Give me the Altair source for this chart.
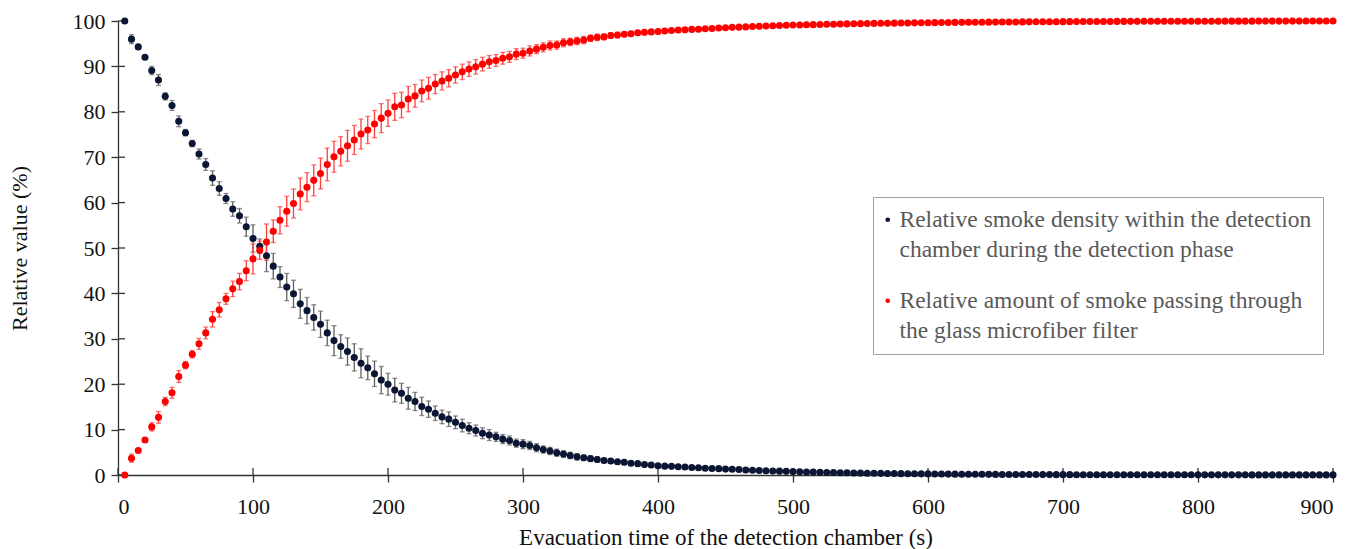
import altair as alt
import pandas as pd

# Evacuation time (s)
t = list(range(5, 905, 5))

# Relative smoke density within the detection chamber (%)
density = [
    100.0, 96.0, 94.3, 92.0, 89.1, 87.0, 83.4, 81.4, 77.9, 75.4,
    73.0, 70.7, 68.4, 65.4, 63.1, 60.9, 58.6, 57.1, 54.7, 52.1,
    50.4, 48.3, 46.0, 43.6, 41.4, 39.9, 37.7, 36.2, 34.7, 33.2,
    31.3, 29.6, 28.3, 27.2, 25.9, 24.6, 23.6, 22.3, 20.9, 20.0,
    18.7, 18.0, 16.9, 16.2, 15.1, 14.5, 13.6, 12.8, 12.3, 11.6,
    10.9, 10.3, 9.8, 9.2, 8.8, 8.4, 7.9, 7.6, 7.0, 6.8,
    6.5, 6.0, 5.6, 5.3, 4.9, 4.6, 4.3, 4.0, 3.8, 3.6,
    3.4, 3.2, 3.1, 2.9, 2.8, 2.6, 2.5, 2.3, 2.2, 2.05,
    1.95, 1.9, 1.8, 1.75, 1.65, 1.6, 1.5, 1.45, 1.4, 1.3,
    1.25, 1.2, 1.1, 1.05, 1.0, 0.95, 0.9, 0.85, 0.8, 0.75,
    0.72, 0.68, 0.65, 0.6, 0.57, 0.54, 0.5, 0.48, 0.45, 0.42,
    0.4, 0.38, 0.36, 0.34, 0.32, 0.3, 0.28, 0.27, 0.25, 0.24,
    0.22, 0.21, 0.2, 0.19, 0.18, 0.17, 0.16, 0.15, 0.14, 0.13,
    0.12, 0.12, 0.11, 0.11, 0.1, 0.1, 0.09, 0.09, 0.08, 0.08,
    0.08, 0.07, 0.07, 0.07, 0.06, 0.06, 0.06, 0.06, 0.05, 0.05,
    0.05, 0.05, 0.05, 0.04, 0.04, 0.04, 0.04, 0.04, 0.04, 0.03,
    0.03, 0.03, 0.03, 0.03, 0.03, 0.03, 0.03, 0.02, 0.02, 0.02,
    0.02, 0.02, 0.02, 0.02, 0.02, 0.02, 0.02, 0.02, 0.02, 0.02,
]
density_err = [
    0.0, 1.0, 0.3, 0.4, 0.9, 1.2, 0.8, 1.1, 1.2, 0.7,
    0.7, 1.1, 1.3, 1.6, 1.5, 1.1, 1.6, 1.6, 2.1, 3.0,
    1.6, 3.5, 2.8, 2.3, 3.0, 3.0, 3.2, 2.9, 2.8, 2.9,
    2.8, 3.3, 2.6, 3.0, 3.0, 3.2, 2.6, 2.8, 3.0, 2.4,
    2.6, 2.2, 2.4, 2.0, 2.0, 1.8, 1.6, 1.5, 1.6, 1.4,
    1.4, 1.2, 1.2, 1.2, 1.2, 1.0, 1.0, 1.0, 0.9, 1.0,
    0.9, 0.9, 0.8, 0.8, 0.8, 0.7, 0.7, 0.7, 0.6, 0.6,
    0.6, 0.5, 0.5, 0.5, 0.5, 0.4, 0.4, 0.4, 0.4, 0.4,
    0.3, 0.3, 0.3, 0.3, 0.3, 0.3, 0.2, 0.2, 0.2, 0.2,
    0.2, 0.2, 0.2, 0.2, 0.1, 0.1, 0.1, 0.1, 0.1, 0.1,
    0.1, 0.1, 0.1, 0.1, 0.1, 0.1, 0.1, 0.1, 0.1, 0.1,
    0.0, 0.0, 0.0, 0.0, 0.0, 0.0, 0.0, 0.0, 0.0, 0.0,
    0.0, 0.0, 0.0, 0.0, 0.0, 0.0, 0.0, 0.0, 0.0, 0.0,
    0.0, 0.0, 0.0, 0.0, 0.0, 0.0, 0.0, 0.0, 0.0, 0.0,
    0.0, 0.0, 0.0, 0.0, 0.0, 0.0, 0.0, 0.0, 0.0, 0.0,
    0.0, 0.0, 0.0, 0.0, 0.0, 0.0, 0.0, 0.0, 0.0, 0.0,
    0.0, 0.0, 0.0, 0.0, 0.0, 0.0, 0.0, 0.0, 0.0, 0.0,
    0.0, 0.0, 0.0, 0.0, 0.0, 0.0, 0.0, 0.0, 0.0, 0.0,
]

# Relative amount of smoke passing through the filter (%)
passing = [
    0.0, 3.7, 5.4, 7.7, 10.6, 12.7, 16.2, 18.1, 21.7, 24.2,
    26.6, 28.9, 31.3, 34.3, 36.4, 38.8, 41.0, 42.6, 45.0, 47.6,
    49.5, 51.3, 53.7, 56.1, 58.1, 59.8, 61.9, 63.4, 64.9, 66.4,
    68.4, 70.1, 71.3, 72.5, 73.8, 75.1, 76.0, 77.3, 78.6, 79.7,
    81.1, 81.5, 82.8, 83.5, 84.6, 85.2, 86.1, 86.8, 87.4, 88.1,
    88.8, 89.4, 89.9, 90.5, 91.0, 91.3, 91.8, 92.1, 92.7, 92.9,
    93.4, 93.8, 94.2, 94.6, 94.7, 95.2, 95.4, 95.6, 95.8, 96.2,
    96.4, 96.5, 96.8, 96.9, 97.1, 97.2, 97.4, 97.5, 97.6, 97.7,
    97.8, 97.9, 98.0, 98.05, 98.15, 98.2, 98.3, 98.35, 98.45, 98.5,
    98.6, 98.65, 98.7, 98.8, 98.85, 98.9, 98.95, 99.0, 99.05, 99.1,
    99.13, 99.17, 99.2, 99.24, 99.27, 99.3, 99.33, 99.36, 99.39, 99.42,
    99.44, 99.47, 99.49, 99.51, 99.53, 99.55, 99.57, 99.59, 99.61, 99.63,
    99.64, 99.66, 99.67, 99.69, 99.7, 99.72, 99.73, 99.74, 99.75, 99.76,
    99.77, 99.78, 99.79, 99.8, 99.81, 99.82, 99.83, 99.84, 99.85, 99.86,
    99.86, 99.87, 99.88, 99.88, 99.89, 99.9, 99.9, 99.91, 99.91, 99.92,
    99.92, 99.93, 99.93, 99.94, 99.94, 99.94, 99.95, 99.95, 99.95, 99.96,
    99.96, 99.96, 99.96, 99.97, 99.97, 99.97, 99.97, 99.97, 99.98, 99.98,
    99.98, 99.98, 99.98, 99.98, 99.98, 99.99, 99.99, 99.99, 99.99, 99.99,
]
passing_err = [
    0.0, 0.9, 0.3, 0.5, 0.9, 1.3, 0.9, 1.2, 1.3, 0.8,
    0.8, 1.2, 1.3, 1.7, 1.6, 1.2, 1.7, 1.8, 2.2, 3.3,
    2.0, 4.0, 2.5, 3.0, 3.3, 3.2, 3.5, 3.2, 3.4, 3.4,
    3.6, 3.4, 3.2, 3.4, 3.2, 3.3, 3.0, 3.0, 3.2, 2.9,
    3.0, 2.8, 2.8, 2.5, 2.4, 2.4, 2.1, 2.0, 1.9, 1.8,
    1.7, 1.6, 1.6, 1.5, 1.4, 1.3, 1.3, 1.2, 1.2, 1.1,
    1.1, 1.0, 1.0, 1.0, 0.9, 0.9, 0.8, 0.8, 0.8, 0.7,
    0.7, 0.6, 0.6, 0.6, 0.5, 0.5, 0.5, 0.5, 0.4, 0.4,
    0.4, 0.4, 0.3, 0.3, 0.3, 0.3, 0.3, 0.2, 0.2, 0.2,
    0.2, 0.2, 0.1, 0.1, 0.1, 0.1, 0.1, 0.1, 0.1, 0.1,
    0.1, 0.1, 0.1, 0.1, 0.1, 0.1, 0.1, 0.1, 0.1, 0.1,
    0.0, 0.0, 0.0, 0.0, 0.0, 0.0, 0.0, 0.0, 0.0, 0.0,
    0.0, 0.0, 0.0, 0.0, 0.0, 0.0, 0.0, 0.0, 0.0, 0.0,
    0.0, 0.0, 0.0, 0.0, 0.0, 0.0, 0.0, 0.0, 0.0, 0.0,
    0.0, 0.0, 0.0, 0.0, 0.0, 0.0, 0.0, 0.0, 0.0, 0.0,
    0.0, 0.0, 0.0, 0.0, 0.0, 0.0, 0.0, 0.0, 0.0, 0.0,
    0.0, 0.0, 0.0, 0.0, 0.0, 0.0, 0.0, 0.0, 0.0, 0.0,
    0.0, 0.0, 0.0, 0.0, 0.0, 0.0, 0.0, 0.0, 0.0, 0.0,
]

series_names = [
    "Relative smoke density within the detection|chamber during the detection phase",
    "Relative amount of smoke passing through|the glass microfiber filter",
]
series_colors = ["#0a1633", "#ff0000"]
errbar_colors = ["#5f5f5f", "#ff3b3b"]
x_ticks = [0, 100, 200, 300, 400, 500, 600, 700, 800, 900]
y_ticks = [0, 10, 20, 30, 40, 50, 60, 70, 80, 90, 100]

FONT = "Liberation Serif"
W, H = 1215, 454

rows = []
for name, vals, errs in [(series_names[0], density, density_err),
                         (series_names[1], passing, passing_err)]:
    for ti, v, e in zip(t, vals, errs):
        rows.append({"t": ti, "value": v, "lo": v - e, "hi": v + e, "series": name})
df = pd.DataFrame(rows)

xscale = alt.Scale(domain=[0, 900], nice=False, zero=False)
yscale = alt.Scale(domain=[0, 100], nice=False)
xaxis = alt.Axis(values=x_ticks, title="Evacuation time of the detection chamber (s)",
                 labelPadding=14, titlePadding=9, titleFontSize=23)
yaxis = alt.Axis(values=y_ticks, title="Relative value (%)", labelPadding=6,
                 titlePadding=41, titleFontSize=22)

X = alt.X("t:Q", scale=xscale, axis=xaxis)
ytitle = "Relative value (%)"

base = alt.Chart(df)

err_layers = []
for name, col in zip(series_names, errbar_colors):
    err_layers.append(
        base.transform_filter(alt.datum.series == name)
        .mark_errorbar(ticks=True, size=5, thickness=1.3, color=col)
        .encode(x=X, y=alt.Y("lo:Q", scale=yscale, axis=yaxis, title=ytitle), y2="hi:Q")
    )

points = base.mark_point(filled=True, size=50, opacity=1, strokeWidth=0).encode(
    x=X,
    y=alt.Y("value:Q", scale=yscale, axis=yaxis, title=ytitle),
    color=alt.Color(
        "series:N",
        scale=alt.Scale(domain=series_names, range=series_colors),
        legend=alt.Legend(
            title=None, orient="none", legendX=755, legendY=176,
            direction="vertical", labelExpr="split(datum.label, '|')",
            labelFont=FONT, labelFontSize=23.5, labelColor="#595959",
            labelLimit=1000, labelOffset=0, symbolOffset=-8, symbolType="circle",
            symbolSize=22, symbolStrokeWidth=0, rowPadding=26,
            padding=11, strokeColor="#a0a0a0", fillColor="white",
        ),
    ),
)

# inner halves of the cross-shaped axis ticks
tick_x = alt.Chart(pd.DataFrame({"tx": x_ticks})).mark_rule(color="#333333", strokeWidth=1.3).encode(
    x=alt.X("tx:Q", scale=xscale, axis=xaxis), y=alt.value(H - 7), y2=alt.value(H)
)
tick_y = alt.Chart(pd.DataFrame({"ty": y_ticks})).mark_rule(color="#333333", strokeWidth=1.3).encode(
    y=alt.Y("ty:Q", scale=yscale, axis=yaxis, title=ytitle), x=alt.value(0), x2=alt.value(7)
)

chart = (
    alt.layer(tick_x, tick_y, *err_layers, points)
    .properties(width=W, height=H, padding={"top": 2, "left": 0, "right": 5, "bottom": 5})
    .configure(style={"guide-label": {"lineHeight": 30}})
    .configure_view(stroke=None)
    .configure_axis(
        grid=False, domainColor="#333333", domainWidth=1.3, tickColor="#333333",
        tickWidth=1.3, tickSize=7, labelFont=FONT, labelFontSize=22, labelColor="#111111",
        titleFont=FONT, titleFontWeight="normal", titleColor="#111111",
    )
)

chart.save("out.html", embed_options={"renderer": "svg", "actions": False})
